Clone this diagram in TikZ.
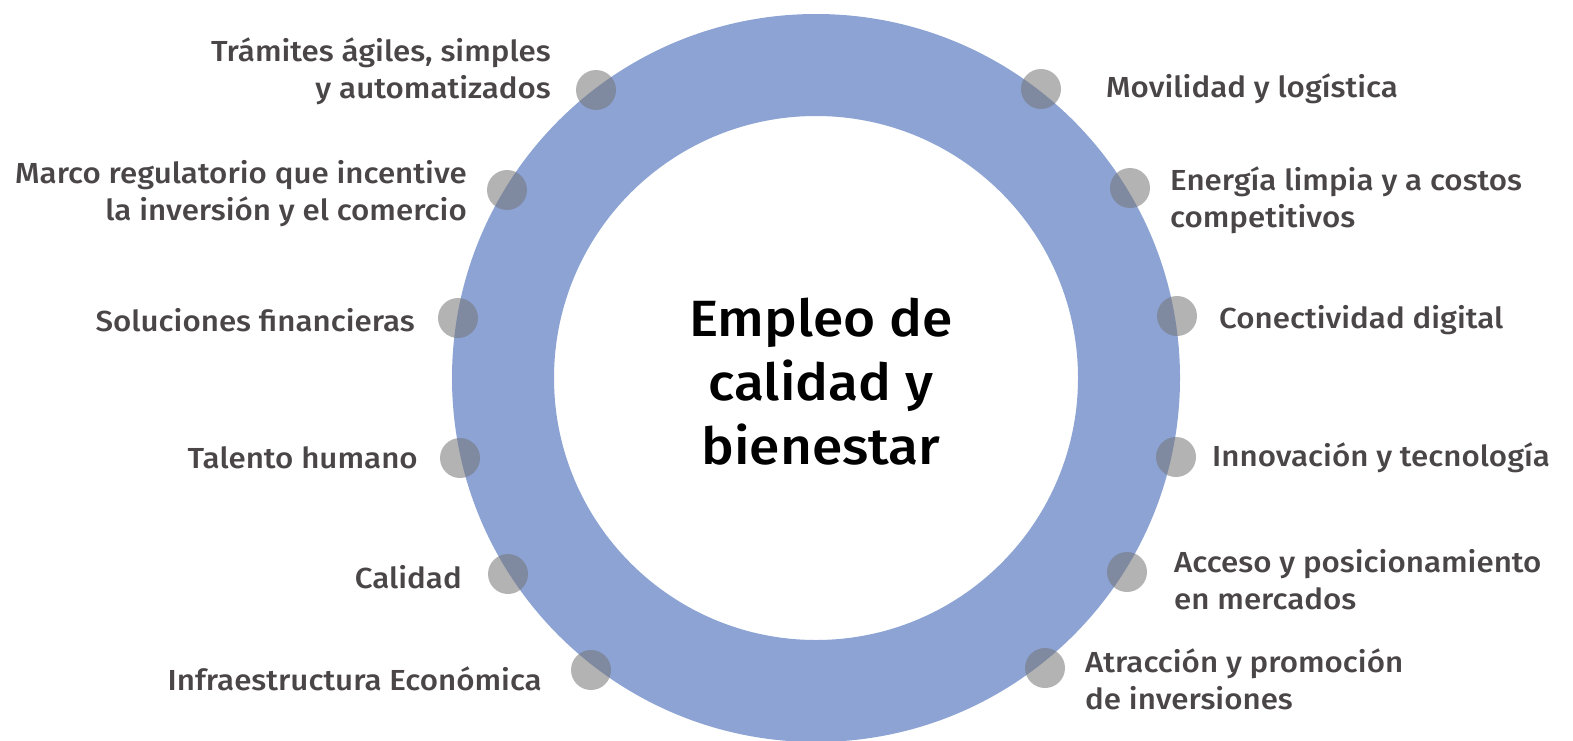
\documentclass[tikz,border=0pt]{standalone}
\usepackage{fontspec}
\setmainfont{Fira Sans Medium}[FakeStretch=1.08]
\definecolor{ring}{HTML}{8CA3D4}
\definecolor{lbl}{HTML}{4A4546}
\begin{document}
\begin{tikzpicture}[x=1pt,y=-1pt,
  dot/.style={circle,minimum size=40pt,inner sep=0pt,fill=black!54,fill opacity=0.55},
  lab/.style={text=lbl,font=\fontsize{29}{37}\selectfont,inner sep=0pt},
  labl/.style={lab,anchor=east,align=right},
  labr/.style={lab,anchor=west,align=left}]
\useasboundingbox (0,0) rectangle (1573,741);
\begin{scope}
\clip (0,0) rectangle (1573,741);
\fill[ring,even odd rule] (816,378) circle (364) (816,378) circle (262);
\end{scope}
\node[font=\fontsize{51}{64}\selectfont,align=center,inner sep=0pt] (c) at (821,382) {Empleo de\\calidad y\\bienestar};
% dots
\node[dot] (d1) at (596,90) {};
\node[dot] (d2) at (507,190) {};
\node[dot] (d3) at (458,318) {};
\node[dot] (d4) at (460,458) {};
\node[dot] (d5) at (508,574) {};
\node[dot] (d6) at (591,670) {};
\node[dot] (d7) at (1041,89) {};
\node[dot] (d8) at (1130,188) {};
\node[dot] (d9) at (1177,316) {};
\node[dot] (d10) at (1176,457) {};
\node[dot] (d11) at (1127,572) {};
\node[dot] (d12) at (1045,668) {};
% labels
\node[labl] (l1) at (551,71) {Trámites ágiles, simples\\y automatizados};
\node[labl] (l2) at (467,194) {Marco regulatorio que incentive\\la inversión y el comercio};
\node[labl] (l3) at (415,320) {Soluciones financieras};
\node[labl] (l4) at (418,458) {Talento humano};
\node[labl] (l5) at (462,577) {Calidad};
\node[labl] (l6) at (542,679) {Infraestructura Económica};
\node[labr] (l7) at (1106,89) {Movilidad y logística};
\node[labr] (l8) at (1170,200) {Energía limpia y a costos\\competitivos};
\node[labr] (l9) at (1219,320) {Conectividad digital};
\node[labr] (l10) at (1212,458) {Innovación y tecnología};
\node[labr] (l11) at (1174,580) {Acceso y posicionamiento\\en mercados};
\node[labr] (l12) at (1085,679) {Atracción y promoción\\de inversiones};
\end{tikzpicture}
\end{document}
